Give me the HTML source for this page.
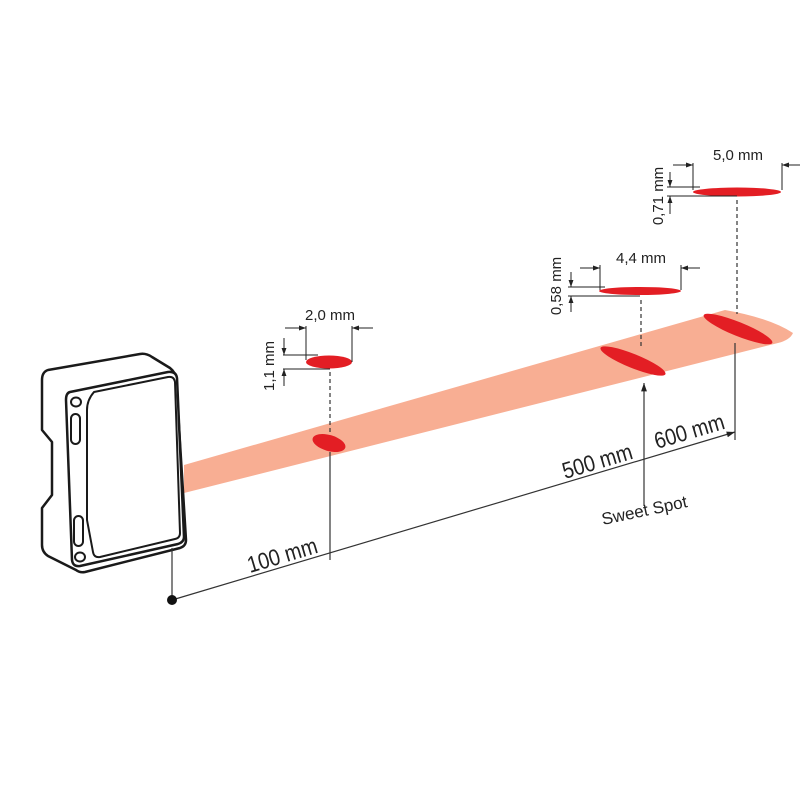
<!DOCTYPE html>
<html><head><style>html,body{margin:0;padding:0;background:#fff}</style></head>
<body>
<svg width="800" height="800" viewBox="0 0 800 800" xmlns="http://www.w3.org/2000/svg" font-family="'Liberation Sans', sans-serif">
<defs>
<marker id="ah" viewBox="0 0 10 10" refX="10" refY="5" markerWidth="7" markerHeight="7" orient="auto-start-reverse"><path d="M0,1.5 L10,5 L0,8.5z" fill="#222"/></marker>
</defs>
<path d="M184,465 L725,310 Q770,318 793,333 Q790,340 778,343 L184,493 Z" fill="#f8ae93"/>
<ellipse cx="329" cy="443" rx="17" ry="8" transform="rotate(16 329 443)" fill="#e31e24"/>
<ellipse cx="633" cy="361" rx="35" ry="7" transform="rotate(22 633 361)" fill="#e31e24"/>
<ellipse cx="738" cy="329" rx="37" ry="7" transform="rotate(22 738 329)" fill="#e31e24"/>
<g fill="#fff" stroke="#1a1a1a" stroke-width="2.5" stroke-linejoin="round">
<path d="M48,370 L140,354 Q146,353 152,357 L170,368 Q175,372 176,378 L186,540 Q186,546 180,548 L85,572 Q80,573 76,570 L48,556 Q42,552 42,545 L42,508 L52,495 L52,442 L42,430 L42,380 Q42,372 48,370 Z"/>
<path d="M70,392 L168,372 Q176,371 177,378 L184,537 Q184,542 178,544 L80,566 Q73,567 72,560 L66,400 Q66,393 70,392 Z"/>
<path d="M94,392 L168,377 Q174,376 175,382 L180,533 Q180,538 175,539 L100,557 Q94,558 93,552 L87,520 L87,410 Q87,400 94,392 Z" stroke-width="2"/>
<ellipse cx="76" cy="402" rx="5" ry="4.5" stroke-width="2"/>
<rect x="71" y="414" width="9" height="30" rx="4.5" stroke-width="2"/>
<rect x="74" y="516" width="9" height="30" rx="4.5" stroke-width="2"/>
<ellipse cx="80" cy="557" rx="5" ry="4.5" stroke-width="2"/>
</g>
<g stroke="#333" stroke-width="1.2" fill="none">
<line x1="172" y1="548" x2="172" y2="600"/>
<line x1="172" y1="600" x2="735" y2="432" marker-end="url(#ah)"/>
<line x1="330" y1="452" x2="330" y2="560"/>
<line x1="735" y1="343" x2="735" y2="440"/>
<line x1="644" y1="506" x2="644" y2="383" marker-end="url(#ah)"/>
<g stroke-dasharray="4,3">
<line x1="330" y1="372" x2="330" y2="434"/>
<line x1="641" y1="300" x2="641" y2="348"/>
<line x1="737" y1="200" x2="737" y2="314"/>
</g>
</g>
<circle cx="172" cy="600" r="5" fill="#111"/>
<ellipse cx="329" cy="362" rx="23" ry="6.5" fill="#e31e24"/>
<ellipse cx="640" cy="291" rx="41" ry="4" fill="#e31e24"/>
<ellipse cx="737" cy="192" rx="44" ry="4.5" fill="#e31e24"/>
<g stroke="#222" stroke-width="1" fill="none">
<line x1="306" y1="326" x2="306" y2="360"/><line x1="352" y1="326" x2="352" y2="362"/>
<line x1="285" y1="328" x2="306" y2="328" marker-end="url(#ah)"/><line x1="373" y1="328" x2="352" y2="328" marker-end="url(#ah)"/>
<line x1="283" y1="355" x2="318" y2="355"/><line x1="283" y1="369" x2="330" y2="369"/>
<line x1="284" y1="338" x2="284" y2="355" marker-end="url(#ah)"/><line x1="284" y1="386" x2="284" y2="369" marker-end="url(#ah)"/>
<line x1="600" y1="265" x2="600" y2="290"/><line x1="681" y1="265" x2="681" y2="290"/>
<line x1="580" y1="268" x2="600" y2="268" marker-end="url(#ah)"/><line x1="700" y1="268" x2="681" y2="268" marker-end="url(#ah)"/>
<line x1="568" y1="287" x2="605" y2="287"/><line x1="568" y1="296" x2="640" y2="296"/>
<line x1="571" y1="272" x2="571" y2="287" marker-end="url(#ah)"/><line x1="571" y1="312" x2="571" y2="296" marker-end="url(#ah)"/>
<line x1="693" y1="163" x2="693" y2="190"/><line x1="782" y1="163" x2="782" y2="190"/>
<line x1="673" y1="165" x2="693" y2="165" marker-end="url(#ah)"/><line x1="800" y1="165" x2="782" y2="165" marker-end="url(#ah)"/>
<line x1="667" y1="187" x2="700" y2="187"/><line x1="667" y1="196" x2="737" y2="196"/>
<line x1="670" y1="172" x2="670" y2="187" marker-end="url(#ah)"/><line x1="670" y1="214" x2="670" y2="196" marker-end="url(#ah)"/>
</g>
<g fill="#222" font-size="15">
<text x="330" y="320" text-anchor="middle">2,0 mm</text>
<text x="641" y="263" text-anchor="middle">4,4 mm</text>
<text x="738" y="160" text-anchor="middle">5,0 mm</text>
<text transform="translate(274,366) rotate(-90)" text-anchor="middle">1,1 mm</text>
<text transform="translate(561,286) rotate(-90)" text-anchor="middle">0,58 mm</text>
<text transform="translate(663,196) rotate(-90)" text-anchor="middle">0,71 mm</text>
</g>
<g fill="#222" font-size="23">
<text transform="translate(250,573) rotate(-16.6)" textLength="72" lengthAdjust="spacingAndGlyphs">100 mm</text>
<text transform="translate(565,479) rotate(-16.6)" textLength="72" lengthAdjust="spacingAndGlyphs">500 mm</text>
<text transform="translate(657,449) rotate(-16.6)" textLength="72" lengthAdjust="spacingAndGlyphs">600 mm</text>
<text transform="translate(603,525) rotate(-12)" font-size="17" textLength="87" lengthAdjust="spacingAndGlyphs">Sweet Spot</text>
</g>
</svg>
</body></html>
